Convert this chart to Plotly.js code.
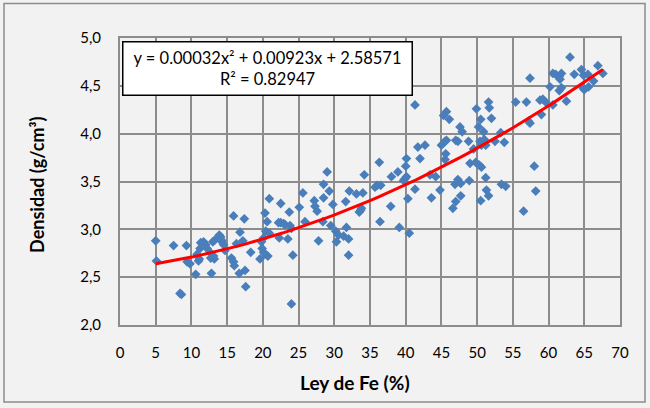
<!DOCTYPE html>
<html>
<head>
<meta charset="utf-8">
<script src="https://cdn.plot.ly/plotly-3.0.1.min.js"></script>
<style>
  html, body { margin: 0; padding: 0; background: #f2f2f2; }
  #chart { width: 650px; height: 408px; }
</style>
</head>
<body>
<div id="chart"></div>
<script>
// Ley de Fe (%) values
const leyFe = [
  5.0, 5.1, 7.5, 9.3, 8.4, 8.6, 9.4, 9.8, 10.6, 10.8, 11.1, 11.0, 11.3, 11.7, 12.0, 11.2,
  12.2, 12.6, 13.1, 13.0, 13.3, 13.9, 14.0, 14.3, 14.5, 12.8, 12.7, 13.2, 14.7, 14.1,
  15.9, 17.4, 16.8, 16.3, 17.2, 15.6, 15.9, 16.0, 16.7, 17.5, 17.6, 18.3, 19.6, 19.8,
  20.1, 19.9, 20.3, 20.7, 20.3, 20.6, 20.9, 20.4, 20.9, 20.1,
  22.5, 22.2, 22.5, 22.9, 23.1, 23.7, 22.3, 23.5, 23.8, 24.0, 24.2, 24.0,
  25.1, 25.6, 25.9, 27.2, 27.3, 27.6, 27.8, 28.4, 28.5, 28.5, 29.0, 29.3, 29.8, 29.5,
  30.2, 30.6, 30.3, 31.3, 31.7, 32.0, 32.0, 31.6, 32.1, 33.1, 34.0, 33.5, 33.7, 33.8,
  34.2, 35.7, 36.0, 36.3, 36.4, 36.5,
  41.3, 45.3, 45.7, 46.1, 47.6, 47.9, 41.7, 42.7, 42.0, 45.0, 45.5, 45.7, 45.6, 45.5,
  47.0, 47.3, 40.1, 40.0, 38.9, 38.0, 39.7, 39.9, 40.1, 41.3, 40.3, 37.9, 39.1, 40.5,
  43.4, 44.2, 43.6, 44.8, 47.3, 47.7, 46.9, 47.7, 47.0, 46.6,
  49.0, 49.8, 50.3, 50.6, 51.2, 51.3, 51.6, 50.5, 48.9, 53.4, 54.0, 58.2, 56.5,
  57.4, 51.6, 51.7, 49.9, 50.5, 52.0, 55.4, 56.9, 58.8, 59.2, 59.0, 57.2, 57.4, 50.2,
  50.9, 48.8, 50.4, 51.0, 51.2, 50.6, 52.5, 53.3, 53.8, 49.5, 58.0,
  63.0, 60.6, 61.0, 61.5, 61.8, 61.6, 60.2, 61.5, 61.8, 63.6, 64.6, 64.9, 65.5, 66.9,
  67.6, 66.3, 64.8, 65.0, 65.6, 62.5, 59.6, 60.6
];
// Densidad (g/cm3) values
const densidad = [
  2.88, 2.67, 2.83, 2.83, 2.33, 2.32, 2.66, 2.64, 2.53, 2.74, 2.69, 2.67, 2.86, 2.87, 2.84, 2.80,
  2.80, 2.76, 2.72, 2.87, 2.89, 2.94, 2.89, 2.88, 2.84, 2.54, 2.70, 2.69, 2.78, 2.92,
  3.14, 3.11, 2.97, 2.85, 2.88, 2.70, 2.66, 2.62, 2.54, 2.57, 2.40, 2.76, 2.69, 2.87,
  2.91, 2.80, 2.74, 2.72, 3.17, 3.08, 3.32, 2.98, 2.96, 2.76,
  3.27, 3.07, 3.07, 3.06, 3.05, 3.18, 2.91, 2.90, 3.04, 3.01, 2.73, 2.22,
  3.23, 3.38, 3.08, 3.30, 3.24, 3.19, 2.88, 3.08, 3.47, 3.33, 3.60, 3.40, 3.26, 3.04,
  2.98, 2.94, 2.87, 2.93, 3.02, 2.90, 2.73, 3.29, 3.40, 3.37, 3.38, 3.18, 3.20, 3.22,
  3.57, 3.44, 3.46, 3.70, 3.08, 3.46,
  4.30, 4.19, 4.23, 4.15, 4.07, 4.02, 3.86, 3.88, 3.74, 3.88, 3.92, 3.93, 3.79, 3.73,
  3.93, 3.92, 3.74, 3.66, 3.60, 3.55, 3.51, 3.53, 3.55, 3.42, 3.32, 3.24, 3.02, 2.96,
  3.57, 3.55, 3.33, 3.41, 3.52, 3.48, 3.47, 3.35, 3.29, 3.22,
  3.69, 3.70, 3.67, 3.65, 3.54, 3.41, 3.35, 3.30, 3.51, 3.47, 3.45, 3.40, 3.19,
  4.58, 4.33, 4.27, 4.26, 4.15, 4.16, 4.33, 4.33, 4.35, 4.36, 4.20, 4.13, 4.11, 4.07,
  4.02, 3.92, 3.92, 3.94, 3.88, 3.88, 3.92, 4.01, 3.91, 3.84, 3.66,
  4.80, 4.63, 4.62, 4.60, 4.63, 4.57, 4.49, 4.45, 4.48, 4.62, 4.67, 4.61, 4.62, 4.71,
  4.63, 4.55, 4.48, 4.46, 4.49, 4.34, 4.33, 4.30
];
// Polynomial trendline coefficients shown on the chart: [a, b, c] for y = a x^2 + b x + c
const trendCoef = [0.00032, 0.00923, 2.58571];
const trendRange = [5.0, 67.6];
const equationText = "y = 0.00032x² + 0.00923x + 2.58571<br>R² = 0.82947";
const xTitle = "Ley de Fe (%)";
const yTitle = "Densidad (g/cm³)";

const xTickVals = [0, 5, 10, 15, 20, 25, 30, 35, 40, 45, 50, 55, 60, 65, 70];
const xTickText = ["0", "5", "10", "15", "20", "25", "30", "35", "40", "45", "50", "55", "60", "65", "70"];
const yTickVals = [2.0, 2.5, 3.0, 3.5, 4.0, 4.5, 5.0];
const yTickText = ["2,0", "2,5", "3,0", "3,5", "4,0", "4,5", "5,0"];

// trendline curve sampled across the data range
const trendX = [];
const trendY = [];
const nSteps = 60;
for (let i = 0; i <= nSteps; i++) {
  const x = trendRange[0] + (trendRange[1] - trendRange[0]) * i / nSteps;
  trendX.push(x);
  trendY.push(trendCoef[0] * x * x + trendCoef[1] * x + trendCoef[2]);
}

const FONT = 'Lato, "Open Sans", sans-serif';
const gridCol = '#8c8c8c';

const traces = [
  {
    x: leyFe, y: densidad, type: 'scatter', mode: 'markers',
    marker: { symbol: 'diamond', size: 7.5, color: '#4A7EBB', line: { width: 0 } },
    hoverinfo: 'x+y', showlegend: false
  },
  {
    x: trendX, y: trendY, type: 'scatter', mode: 'lines',
    line: { color: '#FF0000', width: 3 },
    hoverinfo: 'skip', showlegend: false
  }
];

const layout = {
  width: 650, height: 408,
  margin: { l: 120, r: 30, t: 38, b: 83, pad: 0 },
  paper_bgcolor: '#f2f2f2',
  plot_bgcolor: '#f2f2f2',
  font: { family: FONT, size: 15, color: '#000' },
  xaxis: {
    range: [0, 70], tickvals: xTickVals, ticktext: xTickText,
    showgrid: true, gridcolor: gridCol, gridwidth: 2,
    zeroline: false, showline: true, mirror: true, linecolor: gridCol, linewidth: 2,
    ticks: '', ticklen: 0, ticklabelstandoff: 13,
    tickfont: { family: FONT, size: 15, color: '#000' },
    fixedrange: true
  },
  yaxis: {
    range: [2.0, 5.0], tickvals: yTickVals, ticktext: yTickText,
    showgrid: true, gridcolor: gridCol, gridwidth: 2,
    zeroline: false, showline: true, mirror: true, linecolor: gridCol, linewidth: 2,
    ticks: '', ticklen: 0, ticklabelstandoff: 14,
    tickfont: { family: FONT, size: 15, color: '#000' },
    fixedrange: true
  },
  annotations: [
    {
      xref: 'paper', yref: 'paper', x: 0.294, y: 0.893, xanchor: 'center', yanchor: 'middle',
      text: equationText, showarrow: false, align: 'center',
      font: { family: FONT, size: 16.5, color: '#000' },
      bgcolor: '#ffffff', bordercolor: '#000000', borderwidth: 1.5, borderpad: 3,
      width: 282, height: 46
    },
    {
      xref: 'paper', yref: 'paper', x: 0.47, y: -0.199, xanchor: 'center', yanchor: 'middle',
      text: '<b>' + xTitle + '</b>', showarrow: false,
      font: { family: FONT, size: 19, color: '#000' }
    },
    {
      xref: 'paper', yref: 'paper', x: -0.166, y: 0.488, xanchor: 'center', yanchor: 'middle',
      text: '<b>' + yTitle + '</b>', showarrow: false, textangle: -90,
      font: { family: FONT, size: 18, color: '#000' }
    }
  ],
  shapes: [
    {
      type: 'rect', xref: 'paper', yref: 'paper',
      x0: -0.232, x1: 1.05, y0: -0.268, y1: 1.12,
      line: { color: '#8c8c8c', width: 1.5 }, fillcolor: 'rgba(0,0,0,0)', layer: 'below'
    }
  ]
};

Plotly.newPlot('chart', traces, layout, { displayModeBar: false, staticPlot: true });
</script>
</body>
</html>
